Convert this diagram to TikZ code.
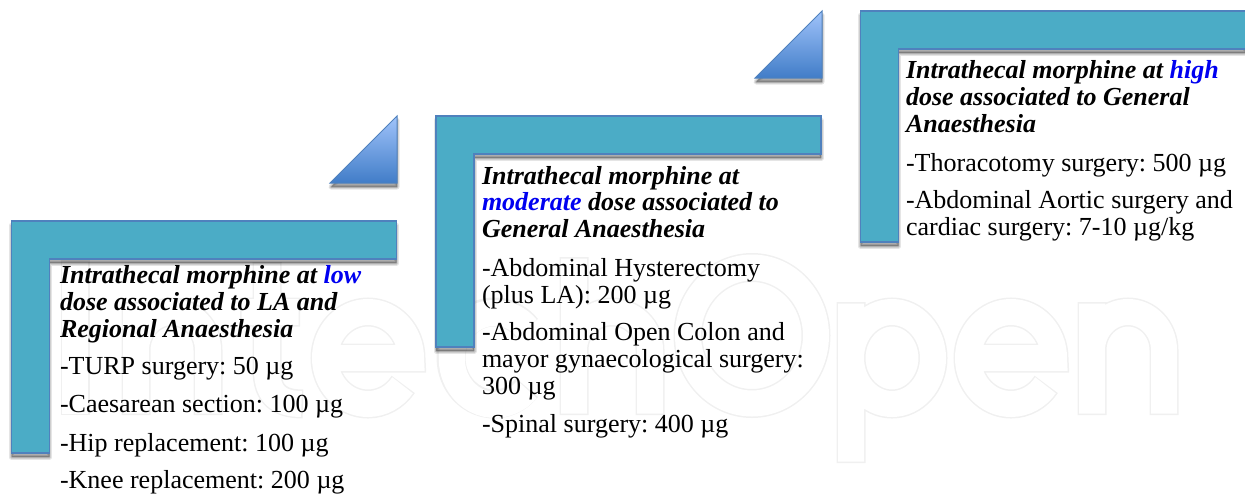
\documentclass[tikz,border=0pt]{standalone}
\usepackage{fontspec}
\setmainfont{Liberation Serif}
\definecolor{teal1}{RGB}{75,172,198}
\definecolor{edge1}{RGB}{79,129,189}
\definecolor{blue1}{RGB}{0,0,240}
\definecolor{tritop}{RGB}{160,195,250}
\definecolor{tribot}{RGB}{65,125,200}
\definecolor{wmark}{RGB}{240,240,240}
\tikzset{
 lshape/.style={fill=teal1,draw=edge1,line width=1.2pt},
 tri/.style={top color=tritop,bottom color=tribot,draw=edge1,line width=1pt},
 shad/.style={fill=black,draw=black,fill opacity=.12,draw opacity=.10,line join=round},
 txt/.style={anchor=north west,inner sep=0pt,outer sep=0pt,align=left,font=\frenchspacing\fontsize{26.02}{26.9}\selectfont},
 head/.style={txt,font=\frenchspacing\fontsize{26}{26.9}\selectfont\bfseries\itshape},
 wmo/.style={draw=wmark,line width=29pt},
 wmi/.style={draw=white,line width=26pt},
}
\newcommand{\mug}{µg}
\newcommand{\lpath}[3]{(#1,#2) -- (#1+385,#2) -- (#1+385,#2+38) -- (#1+38,#2+38) -- (#1+38,#2+#3) -- (#1,#2+#3) -- cycle}
\newcommand{\wmletter}[1]{\def\wmd{0}\path[wmo] #1;\def\wmd{1.5}\path[wmi] #1;}
\begin{document}
\begin{tikzpicture}[x=1pt,y=-1pt]
\useasboundingbox (0,0) rectangle (1245,493);
% faint watermark
\wmletter{(75,260+\wmd) -- (75,415-\wmd)}
\wmletter{(136,302+\wmd) -- (136,415-\wmd) (136,350) arc[start angle=180,end angle=0,x radius=36pt,y radius=38pt] -- (208,415-\wmd)}
\wmletter{(267,262+\wmd) -- (267,370) .. controls (267,395) and (280,404) .. (303-\wmd,404) (240+\wmd,312) -- (300-\wmd,312)}
\wmletter{(325,358) -- (411,358) arc[start angle=0,end angle=325-\wmd,x radius=43pt,y radius=46pt]}
\wmletter{(494+33,358-29.6) arc[start angle=40+\wmd,end angle=320-\wmd,x radius=43pt,y radius=46pt]}
\wmletter{(574,257+\wmd) -- (574,415-\wmd) (574,350) arc[start angle=180,end angle=0,x radius=38pt,y radius=38pt] -- (650,415-\wmd)}
\wmletter{(752,335.5) ellipse [x radius=64pt,y radius=68pt]}
\wmletter{(851,302+\wmd) -- (851,463-\wmd) (892,358) ellipse [x radius=41pt,y radius=46pt]}
\wmletter{(968,358) -- (1054,358) arc[start angle=0,end angle=325-\wmd,x radius=43pt,y radius=46pt]}
\wmletter{(1092,302+\wmd) -- (1092,415-\wmd) (1092,350) arc[start angle=180,end angle=0,x radius=36pt,y radius=38pt] -- (1164,415-\wmd)}
% triangles
\foreach \tx/\ty in {397/183,822/78}{
  \foreach \w in {5,3,1.5}{\path[shad,line width=\w pt] (\tx-66,\ty+4) -- (\tx,\ty+4) -- (\tx,\ty-67+4) -- cycle;}
  \draw[tri] (\tx-67,\ty) -- (\tx,\ty) -- (\tx,\ty-67) -- cycle;
}
% L shapes
\foreach \lx/\ly/\lh in {11.5/221/232,436/116/231,860.5/11/231}{
  \foreach \w in {5,3,1.5}{\path[shad,line width=\w pt] \lpath{\lx}{\ly+4}{\lh};}
  \draw[lshape] \lpath{\lx}{\ly}{\lh};
}
\node[head] (t1a) at (60,265.5) {Intrathecal morphine at \textcolor{blue1}{low}\\dose associated to LA and\\Regional Anaesthesia};
\node[txt] (t1b) at (60,357.5) {-TURP surgery: 50 \mug};
\node[txt] (t1c) at (60,395.5) {-Caesarean section: 100 \mug};
\node[txt] (t1d) at (60,433.5) {-Hip replacement: 100 \mug};
\node[txt] (t1e) at (60,470.5) {-Knee replacement: 200 \mug};
\node[head] (t2a) at (482,166) {Intrathecal morphine at\\\textcolor{blue1}{moderate} dose associated to\\General Anaesthesia};
\node[txt] (t2b) at (482,258.5) {-Abdominal Hysterectomy\\(plus LA): 200 \mug};
\node[txt] (t2c) at (482,322.5) {-Abdominal Open Colon and\\mayor gynaecological surgery:\\300 \mug};
\node[txt] (t2d) at (482,414.5) {-Spinal surgery: 400 \mug};
\node[head] (t3a) at (906,60.5) {Intrathecal morphine at \textcolor{blue1}{high}\\dose associated to General\\Anaesthesia};
\node[txt] (t3b) at (906,153.5) {-Thoracotomy surgery: 500 \mug};
\node[txt] (t3c) at (906,190.5) {-Abdominal Aortic surgery and\\cardiac surgery: 7-10 \mug/kg};
\end{tikzpicture}
\end{document}
